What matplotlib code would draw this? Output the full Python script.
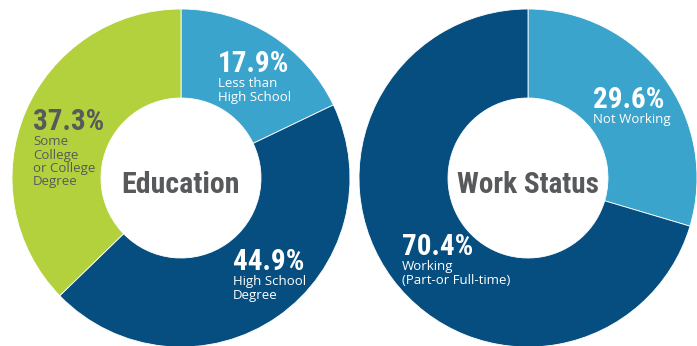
import matplotlib.pyplot as plt

# education donut
edu_vals = [17.9, 44.9, 37.3]
edu_labels = ['Less than\nHigh School', 'High School\nDegree', 'Some\nCollege\nor College\nDegree']
# work status donut
work_vals = [29.6, 70.4]
work_labels = ['Not Working', 'Working\n(Part-or Full-time)']

light_blue = '#3aa4cc'
dark_blue = '#064e7f'
green = '#b3d13d'
grey = '#58595b'

num_font = ['Roboto Condensed', 'DejaVu Sans']
lab_font = ['Open Sans', 'DejaVu Sans']

fig = plt.figure(figsize=(6.97, 3.46), dpi=100)
ax = fig.add_axes([0, 0, 691 / 697, 1])

R = 169
W = 89
ax.pie(edu_vals, colors=[light_blue, dark_blue, green], startangle=90, counterclock=False,
       center=(181, 168), radius=R, wedgeprops=dict(width=W, edgecolor='white', linewidth=0.6))
ax.pie(work_vals, colors=[light_blue, dark_blue], startangle=90, counterclock=False,
       center=(528, 168), radius=R, wedgeprops=dict(width=W, edgecolor='white', linewidth=0.6))

ax.set_xlim(0, 691)
ax.set_ylim(0, 346)
ax.set_aspect('auto')
ax.set_axis_off()

def label(x, y, val, txt, col):
    ax.text(x, y, '%.1f%%' % val, family=num_font, weight='bold', stretch='condensed',
            fontsize=21, color=col, ha='left', va='baseline')
    ax.text(x, y - 5, txt, family=lab_font, fontsize=9.5, color=col,
            ha='left', va='top', linespacing=1.05)

label(218, 274, edu_vals[0], edu_labels[0], 'white')
label(233, 76, edu_vals[1], edu_labels[1], 'white')
label(33, 216, edu_vals[2], edu_labels[2], grey)
label(593, 238, work_vals[0], work_labels[0], 'white')
label(402, 91, work_vals[1], work_labels[1], 'white')

ax.text(181, 153, 'Education', family=num_font, weight='bold', stretch='condensed',
        fontsize=21.5, color=grey, ha='center', va='baseline')
ax.text(528, 153, 'Work Status', family=num_font, weight='bold', stretch='condensed',
        fontsize=21, color=grey, ha='center', va='baseline')

fig.savefig('out.png', dpi=100)
